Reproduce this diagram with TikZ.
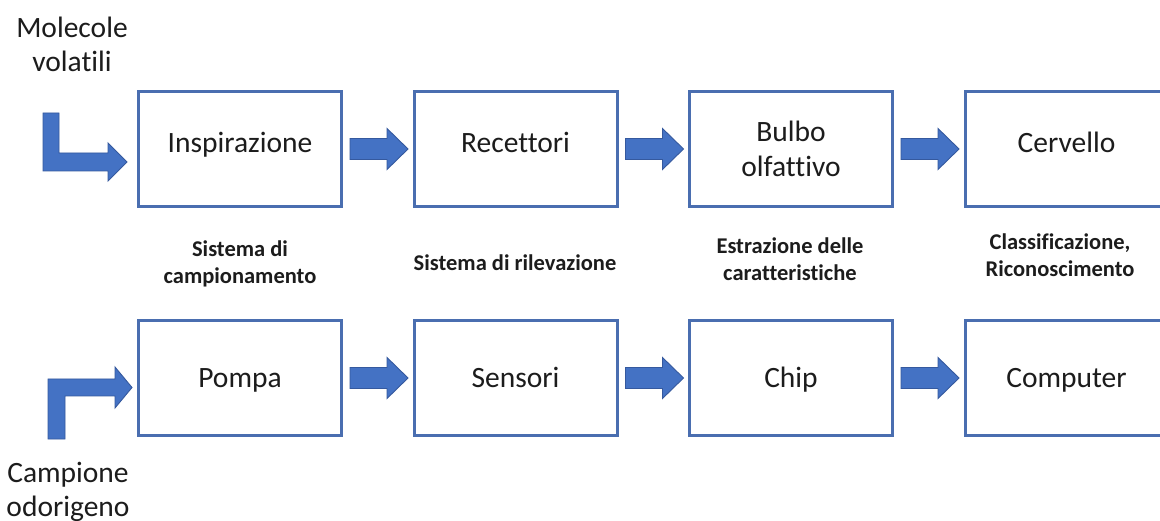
\documentclass[tikz,border=0pt]{standalone}
\usepackage{fontspec}
\setmainfont{Carlito}[Ligatures={NoCommon}]
\usetikzlibrary{calc}
\definecolor{boxblue}{HTML}{4A6EB0}
\definecolor{arrowfill}{HTML}{4472C4}
\definecolor{arrowline}{HTML}{35599E}
\definecolor{txt}{HTML}{1C1C1C}
\tikzset{
  stagebox/.style={draw=boxblue, line width=3pt, fill=white, outer sep=0pt,
    minimum width=203pt, minimum height=115pt, inner sep=0pt, align=center,
    text=txt, font=\fontsize{29.5}{35}\selectfont},
  toprow/.style={stagebox, text height=20pt, text depth=12pt},
  botrow/.style={stagebox, text height=25pt, text depth=5pt},
  sidelbl/.style={inner sep=0pt, align=center, text=txt, anchor=base,
    font=\fontsize{29.5}{34}\selectfont},
  boldlbl/.style={inner sep=0pt, align=center, text=txt, anchor=base,
    font=\fontsize{22.5}{27}\selectfont\bfseries},
  barrow/.style={fill=arrowfill, draw=arrowline, line width=0.9pt, line join=miter}
}
\newcommand\flowarrow[2]{%
  \path[barrow] let \p1=(#1.east), \p2=(#2.west) in
    (\x1+8.5pt,\y1+10.5pt) -- (\x2-27pt,\y1+10.5pt) -- (\x2-27pt,\y1+20.5pt)
    -- (\x2-6pt,\y1) -- (\x2-27pt,\y1-20.5pt) -- (\x2-27pt,\y1-10.5pt)
    -- (\x1+8.5pt,\y1-10.5pt) -- cycle;}
\begin{document}
\begin{tikzpicture}[x=1pt,y=-1pt]
\clip (0,0) rectangle (1160,521);
\fill[white] (0,0) rectangle (1160,521);
% top row
\node[toprow] (b1) at (240,149) {Inspirazione};
\node[toprow] (b2) at (515.5,149) {Recettori};
\node[stagebox] (b3) at (791,149) {Bulbo\\olfattivo};
\node[toprow] (b4) at (1066.5,149) {Cervello};
% bottom row
\node[botrow] (c1) at (240,378) {Pompa};
\node[botrow] (c2) at (515.5,378) {Sensori};
\node[botrow] (c3) at (791,378) {Chip};
\node[botrow] (c4) at (1066.5,378) {Computer};
% arrows between boxes
\flowarrow{b1}{b2}
\flowarrow{b2}{b3}
\flowarrow{b3}{b4}
\flowarrow{c1}{c2}
\flowarrow{c2}{c3}
\flowarrow{c3}{c4}
% side labels (anchor = baseline of last line)
\node[sidelbl] (mol) at (72,72) {Molecole\\volatili};
\node[sidelbl] (camp) at (68,516) {Campione\\odorigeno};
% L-shaped input arrows
\coordinate (srcA) at (51,113);
\coordinate (srcB) at (56.5,439);
\path[barrow] let \p1=(srcA), \p2=(b1.west) in
  (\x1-8pt,\y1) -- (\x1+8pt,\y1) -- (\x1+8pt,\y2-4pt) -- (\x2-30.5pt,\y2-4pt)
  -- (\x2-30.5pt,\y2+6pt) -- (\x2-11.5pt,\y2-13pt) -- (\x2-30.5pt,\y2-32pt)
  -- (\x2-30.5pt,\y2-22pt) -- (\x1-8pt,\y2-22pt) -- cycle;
\path[barrow] let \p1=(srcB), \p2=(c1.west) in
  (\x1-8.5pt,\y1) -- (\x1-8.5pt,\y2-1pt) -- (\x2-23.5pt,\y2-1pt)
  -- (\x2-23.5pt,\y2+11pt) -- (\x2-6.5pt,\y2-9.5pt) -- (\x2-23.5pt,\y2-30pt)
  -- (\x2-23.5pt,\y2-18pt) -- (\x1+8.5pt,\y2-18pt) -- (\x1+8.5pt,\y1) -- cycle;
% stage descriptions
\node[boldlbl] (d1) at (240,284) {Sistema di\\campionamento};
\node[boldlbl] (d2) at (515,271) {Sistema di rilevazione};
\node[boldlbl] (d3) at (790,281) {Estrazione delle\\caratteristiche};
\node[boldlbl] (d4) at (1060,277) {Classificazione,\\Riconoscimento};
\end{tikzpicture}
\end{document}
